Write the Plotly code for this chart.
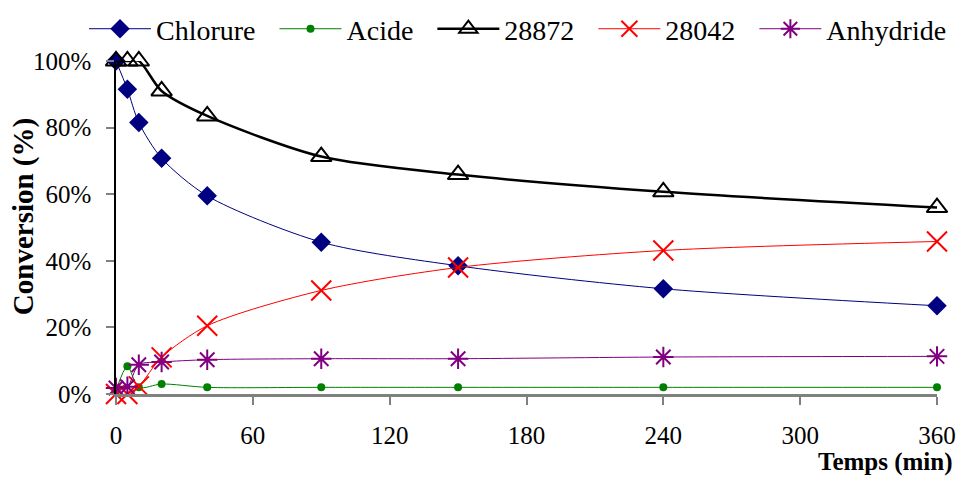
import plotly.graph_objects as go

time_min = [0, 5, 10, 20, 40, 90, 150, 240, 360]
chlorure = [100, 91.5, 81.5, 70.8, 59.5, 45.6, 38.5, 31.6, 26.5]
acide = [1, 8.3, 2, 3, 2, 2, 2, 2, 2]
s28872 = [100, 100, 100, 91, 83.5, 71.3, 65.9, 60.7, 56]
s28042 = [0, 0, 2.3, 11, 20.5, 31.1, 38, 43.1, 45.8]
anhydride = [1.8, 2.2, 8.8, 9.6, 10.3, 10.6, 10.6, 11.1, 11.3]

x_ticks = [0, 60, 120, 180, 240, 300, 360]
y_ticks = [0, 20, 40, 60, 80, 100]
y_tick_labels = ["0%", "20%", "40%", "60%", "80%", "100%"]

FONT = "Liberation Serif, Times New Roman, serif"
PAD = "\u00a0\u00a0"

fig = go.Figure()

series = [
    ("Chlorure", chlorure, "#000080", 1, dict(symbol="diamond", size=15, color="#000080")),
    ("Acide", acide, "#008000", 1, dict(symbol="circle", size=8, color="#008000")),
    ("28872", s28872, "#000000", 2.5, dict(symbol="triangle-up-open", size=18, color="#000000",
                                          line=dict(width=2, color="#000000"))),
    ("28042", s28042, "#FF0000", 1, dict(symbol="x-thin-open", size=20, color="#FF0000",
                                        line=dict(width=2, color="#FF0000"))),
    ("Anhydride", anhydride, "#800080", 1, dict(symbol="asterisk-open", size=17, color="#800080",
                                               line=dict(width=2, color="#800080"))),
]

for name, vals, color, lw, marker in series:
    fig.add_trace(go.Scatter(
        x=time_min, y=vals, name=name + PAD, mode="lines+markers",
        line=dict(color=color, width=lw, shape="spline", smoothing=0.8),
        marker=marker, cliponaxis=False,
    ))

fig.update_layout(
    width=959, height=477,
    margin=dict(l=116, r=22.3, t=61, b=82.5, autoexpand=False),
    plot_bgcolor="white", paper_bgcolor="white",
    font=dict(family=FONT, size=25, color="black"),
    showlegend=True,
    legend=dict(orientation="h", x=-0.039, y=1.096, xanchor="left", yanchor="middle",
                font=dict(family=FONT, size=28), itemwidth=62, bgcolor="rgba(0,0,0,0)",
                traceorder="normal"),
    xaxis=dict(range=[0, 360], tickvals=x_ticks, showgrid=False, zeroline=False,
               showline=True, linecolor="#808080", linewidth=2.5,
               ticks="outside", ticklen=8, tickcolor="#808080", tickwidth=1.5,
               tickfont=dict(family=FONT, size=25), ticklabelstandoff=9),
    yaxis=dict(range=[0, 100], tickvals=y_ticks, ticktext=y_tick_labels, showgrid=False,
               zeroline=False, showline=True, linecolor="black", linewidth=1.5,
               ticks="outside", ticklen=8, tickcolor="#808080", tickwidth=1.5,
               tickfont=dict(family=FONT, size=25), ticklabelstandoff=10),
    annotations=[
        dict(text="<b>Conversion (%)</b>", xref="paper", yref="paper", x=0, y=0.531,
             xshift=-93, xanchor="center", yanchor="middle", textangle=-90, showarrow=False,
             font=dict(family=FONT, size=29)),
        dict(text="<b>Temps (min)</b>", xref="paper", yref="paper", x=1, y=0,
             xshift=17, yshift=-53, xanchor="right", yanchor="top", showarrow=False,
             font=dict(family=FONT, size=25), borderpad=0),
    ],
)

fig.write_html(
    "out.html",
    config={"displayModeBar": False},
    post_script="document.body.style.margin='0';document.body.style.overflow='hidden';",
)
